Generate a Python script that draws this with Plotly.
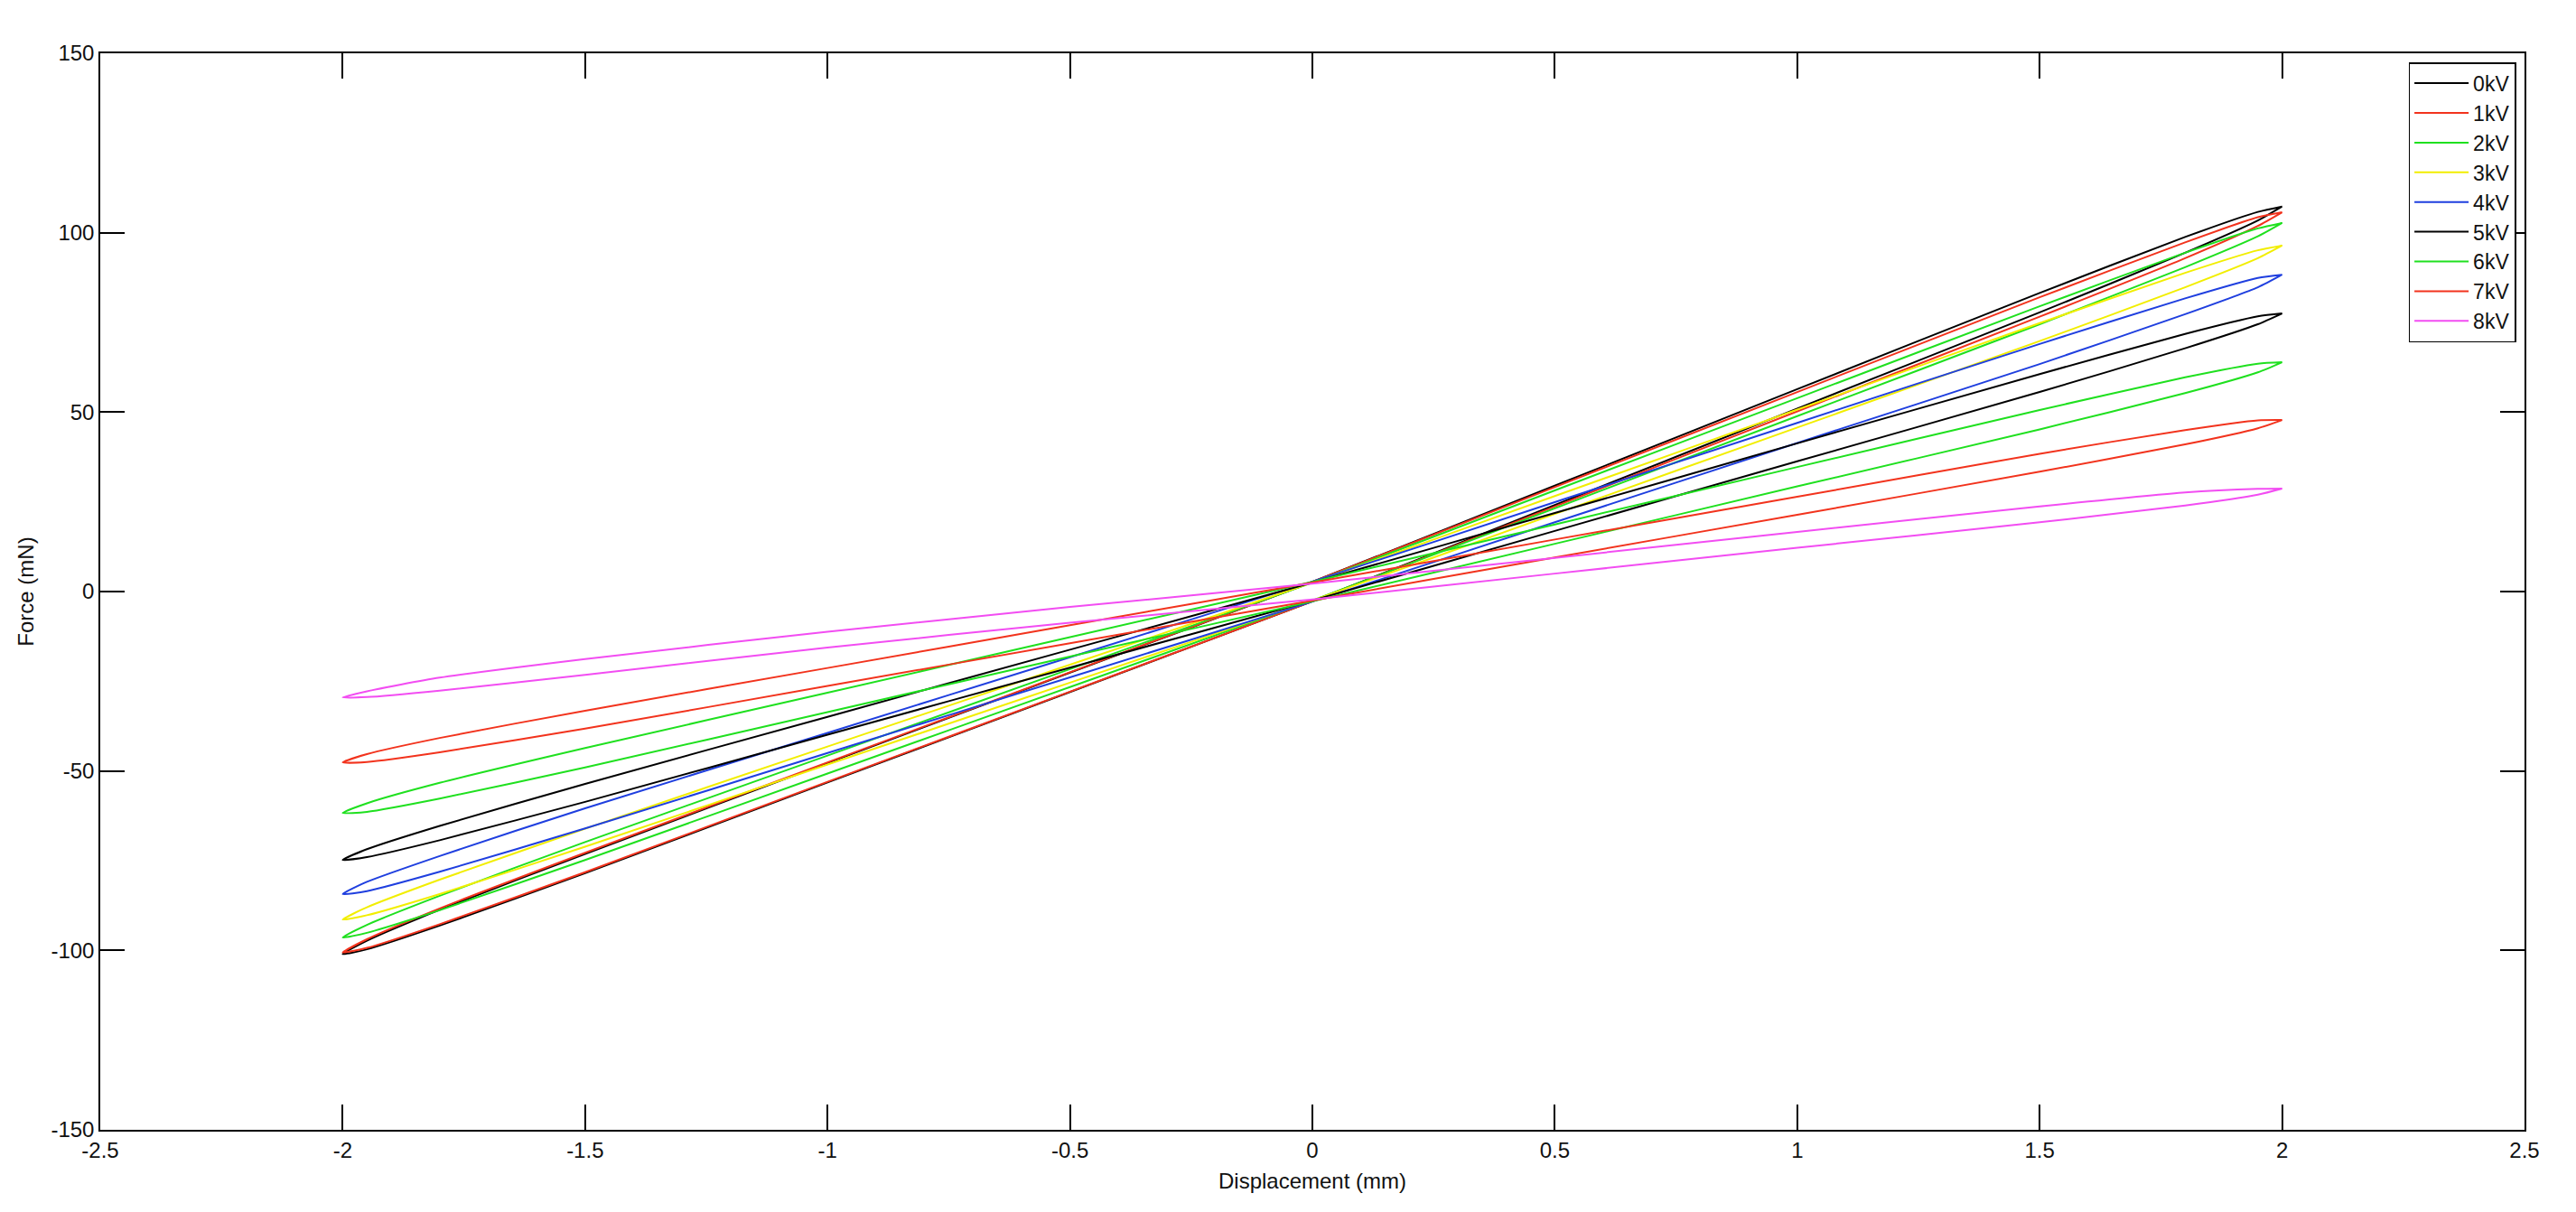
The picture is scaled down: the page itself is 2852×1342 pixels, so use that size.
import plotly.graph_objects as go

# displacement stations (mm) along each hysteresis loop
stations = [-2, -1.95, -1.8, -1.5, -1, -0.5, 0, 0.5, 1, 1.5, 1.8, 1.95, 2]

labels = ['0kV', '1kV', '2kV', '3kV', '4kV', '5kV', '6kV', '7kV', '8kV']
colors = ['#000000', '#f2331d', '#1fe01f', '#f2ee00', '#1f3fdf',
          '#000000', '#1fe01f', '#f2331d', '#f24df2']

# force (mN) on the upper branch, left to right
upper_0kV = [-101.0, -97.3, -88.7, -73.1, -47.8, -22.6, 2.7, 29.5, 56.4, 83.2, 98.8, 105.8, 107.3]
upper_1kV = [-100.6, -96.9, -88.3, -72.8, -47.6, -22.5, 2.7, 29.1, 55.6, 82.0, 97.3, 104.3, 105.7]
upper_2kV = [-96.4, -92.9, -84.8, -69.8, -45.7, -21.6, 2.5, 28.2, 53.9, 79.5, 94.4, 101.2, 102.7]
upper_3kV = [-91.4, -88.0, -80.3, -66.1, -43.2, -20.4, 2.5, 26.6, 50.7, 74.8, 88.8, 95.1, 96.4]
upper_4kV = [-84.3, -80.9, -73.7, -60.4, -39.4, -18.3, 2.8, 24.9, 47.0, 69.0, 81.7, 87.4, 88.3]
upper_5kV = [-74.8, -71.8, -65.3, -53.6, -34.9, -16.2, 2.5, 21.9, 41.3, 60.6, 71.8, 76.7, 77.5]
upper_6kV = [-61.7, -59.0, -53.3, -43.6, -28.2, -12.7, 2.7, 18.7, 34.7, 50.6, 59.7, 63.5, 63.9]
upper_7kV = [-47.6, -45.3, -40.8, -33.2, -21.3, -9.4, 2.5, 14.5, 26.4, 38.4, 45.0, 47.7, 47.8]
upper_8kV = [-29.5, -27.8, -24.0, -18.8, -11.2, -4.3, 2.2, 9.4, 16.6, 23.7, 27.6, 28.6, 28.7]

# force (mN) on the lower branch, left to right
lower_0kV = [-101.0, -99.7, -93.1, -78.5, -53.2, -28.0, -2.7, 24.1, 51.0, 77.8, 94.4, 103.4, 107.3]
lower_1kV = [-100.6, -99.3, -92.7, -78.2, -53.0, -27.9, -2.7, 23.7, 50.2, 76.6, 92.9, 101.9, 105.7]
lower_2kV = [-96.4, -95.1, -88.8, -74.8, -50.7, -26.6, -2.5, 23.2, 48.9, 74.5, 90.4, 99.0, 102.7]
lower_3kV = [-91.4, -90.2, -84.3, -71.1, -48.2, -25.4, -2.5, 21.6, 45.7, 69.8, 84.8, 92.9, 96.4]
lower_4kV = [-84.3, -83.5, -78.1, -66.0, -45.0, -23.9, -2.8, 19.3, 41.4, 63.4, 77.3, 84.8, 88.3]
lower_5kV = [-74.8, -74.0, -69.3, -58.6, -39.9, -21.2, -2.5, 16.9, 36.3, 55.6, 67.8, 74.5, 77.5]
lower_6kV = [-61.7, -61.4, -57.7, -49.0, -33.6, -18.1, -2.7, 13.3, 29.3, 45.2, 55.3, 61.1, 63.9]
lower_7kV = [-47.6, -47.5, -44.8, -38.2, -26.3, -14.4, -2.5, 9.5, 21.4, 33.4, 41.0, 45.5, 47.8]
lower_8kV = [-29.5, -29.4, -27.6, -23.2, -15.6, -8.7, -2.2, 5.0, 12.2, 19.3, 24.0, 27.0, 28.7]

uppers = [upper_0kV, upper_1kV, upper_2kV, upper_3kV, upper_4kV,
          upper_5kV, upper_6kV, upper_7kV, upper_8kV]
lowers = [lower_0kV, lower_1kV, lower_2kV, lower_3kV, lower_4kV,
          lower_5kV, lower_6kV, lower_7kV, lower_8kV]

x_ticks = [-2.5, -2, -1.5, -1, -0.5, 0, 0.5, 1, 1.5, 2, 2.5]
x_ticktext = ['-2.5', '-2', '-1.5', '-1', '-0.5', '0', '0.5', '1', '1.5', '2', '2.5']
y_ticks = [-150, -100, -50, 0, 50, 100, 150]
y_ticktext = ['-150', '-100', '-50', '0', '50', '100', '150']

fig = go.Figure()

for name, color, up, low in zip(labels, colors, uppers, lowers):
    # closed loop: out along the upper branch, back along the lower one
    xs = stations + stations[::-1]
    ys = up + low[::-1]
    fig.add_trace(go.Scatter(
        x=xs, y=ys,
        mode='lines',
        name=name,
        line=dict(color=color, width=2, shape='spline', smoothing=0.6),
    ))

axis_style = dict(
    showgrid=False,
    zeroline=False,
    showline=True,
    linecolor='black',
    linewidth=1.5,
    mirror='ticks',
    ticks='inside',
    tickcolor='black',
    tickwidth=1.5,
    tickfont=dict(size=24, color='#111111'),
)

# the page body has an 8px margin, so the figure is 16px smaller than the window
fig.update_layout(
    width=2836, height=1326,
    paper_bgcolor='white',
    plot_bgcolor='white',
    font=dict(family='Liberation Sans, Arial, sans-serif', size=24, color='#111111'),
    margin=dict(l=103, r=49, t=51, b=83, autoexpand=False),
    xaxis=dict(
        range=[-2.5, 2.5],
        tickvals=x_ticks, ticktext=x_ticktext,
        ticklen=28,
        title=dict(text='Displacement (mm)', standoff=14, font=dict(size=24)),
        **axis_style,
    ),
    yaxis=dict(
        range=[-150, 150],
        tickvals=y_ticks, ticktext=y_ticktext,
        ticklen=27,
        title=dict(text='Force (mN)', standoff=12, font=dict(size=24)),
        **axis_style,
    ),
    legend=dict(
        x=0.9965, y=0.9915,
        xanchor='right', yanchor='top',
        bgcolor='white',
        bordercolor='black',
        borderwidth=1.5,
        font=dict(size=23),
        itemwidth=60,
        tracegroupgap=0,
    ),
    showlegend=True,
)

fig.write_html("out.html")
